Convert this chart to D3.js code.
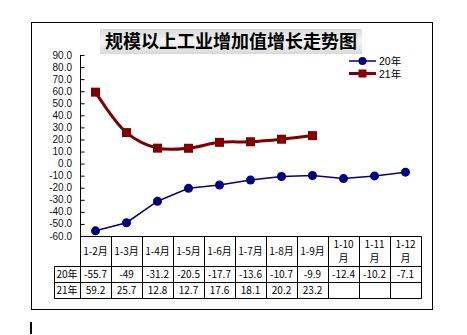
<!DOCTYPE html>
<html><head><meta charset="utf-8">
<script src="https://cdn.jsdelivr.net/npm/d3@7"></script>
<style>body{margin:0;background:#fff}svg{display:block}</style>
</head><body>
<script>
const title = "规模以上工业增加值增长走势图";
const categories = ["1-2月","1-3月","1-4月","1-5月","1-6月","1-7月","1-8月","1-9月","1-10月","1-11月","1-12月"];
const seriesNames = ["20年","21年"];
const values20 = [-55.7,-49,-31.2,-20.5,-17.7,-13.6,-10.7,-9.9,-12.4,-10.2,-7.1];
const values21 = [59.2,25.7,12.8,12.7,17.6,18.1,20.2,23.2];
const yTicks = [90,80,70,60,50,40,30,20,10,0,-10,-20,-30,-40,-50,-60];

const W=467,H=335;
const svg=d3.select("body").append("svg").attr("width",W).attr("height",H);
const font='"Noto Sans CJK SC", "DejaVu Sans", sans-serif';
const numFont='"Liberation Sans", "Noto Sans CJK SC", sans-serif';

// outer frame
svg.append("rect").attr("x",31.5).attr("y",22.5).attr("width",401).attr("height",287)
  .attr("fill","#fff").attr("stroke","#000");

// title
const grad=svg.append("defs").append("linearGradient").attr("id","tg").attr("x1",0).attr("y1",0).attr("x2",0).attr("y2",1);
grad.append("stop").attr("offset","0%").attr("stop-color","#d9d9d9");
grad.append("stop").attr("offset","50%").attr("stop-color","#f4f4f4");
grad.append("stop").attr("offset","100%").attr("stop-color","#d9d9d9");
svg.append("rect").attr("x",100).attr("y",29).attr("width",262).attr("height",25).attr("fill","url(#tg)");
svg.append("text").attr("x",231).attr("y",48).attr("text-anchor","middle")
  .attr("font-family",font).attr("font-size",18).attr("font-weight","bold").attr("fill","#000")
  .text(title);

// scales
const x=d3.scaleBand().domain(categories).range([80,421]);
const y=d3.scaleLinear().domain([-60,90]).range([236,55]);
const cx=c=>x(c)+x.bandwidth()/2;

// y axis
const fmt=v=>(v<0?"-":"")+Math.abs(v).toFixed(1);
const yAxis=d3.axisRight(y).tickValues(yTicks).tickFormat("").tickSize(4);
const ga=svg.append("g").attr("transform","translate(80,0)").call(yAxis);
ga.select(".domain").attr("d","M0.5,"+y(90)+"V"+y(-60)).attr("stroke","#000");
ga.selectAll(".tick line").attr("stroke","#000").attr("transform","translate(0.5,0)");
svg.append("g").selectAll("text").data(yTicks).join("text")
  .attr("x",72).attr("y",d=>y(d)+3.5).attr("text-anchor","end")
  .attr("font-family",numFont).attr("font-size",10).attr("fill","#111")
  .text(fmt);

// series 20
const pts20=values20.map((v,i)=>[cx(categories[i]),y(v)]);
svg.append("path").attr("d",d3.line()(pts20)).attr("fill","none").attr("stroke","#000080").attr("stroke-width",1.5);
svg.append("g").selectAll("circle").data(pts20).join("circle")
  .attr("cx",d=>d[0]).attr("cy",d=>d[1]).attr("r",4.5).attr("fill","#000080");

// series 21
const pts21=values21.map((v,i)=>[cx(categories[i]),y(v)]);
svg.append("path").attr("d",d3.line().curve(d3.curveCatmullRom.alpha(0.5))(pts21))
  .attr("fill","none").attr("stroke","#800000").attr("stroke-width",3);
svg.append("g").selectAll("rect").data(pts21).join("rect")
  .attr("x",d=>d[0]-4.5).attr("y",d=>d[1]-4.5).attr("width",9).attr("height",9).attr("fill","#800000");

// legend
const lg=svg.append("g");
lg.append("line").attr("x1",349).attr("x2",376).attr("y1",61).attr("y2",61).attr("stroke","#000080").attr("stroke-width",1.5);
lg.append("circle").attr("cx",362.5).attr("cy",61).attr("r",4).attr("fill","#000080");
lg.append("line").attr("x1",349).attr("x2",376).attr("y1",73.5).attr("y2",73.5).attr("stroke","#800000").attr("stroke-width",3);
lg.append("rect").attr("x",358.5).attr("y",69.5).attr("width",8).attr("height",8).attr("fill","#800000");
lg.selectAll("text").data(seriesNames).join("text")
  .attr("x",379).attr("y",(d,i)=>65+i*12.5).attr("font-family",numFont).attr("font-size",10.5).attr("fill","#000").text(d=>d);

// data table
const tb=svg.append("g").attr("font-family",font).attr("font-size",10).attr("fill","#000");
const L=54.5,R=421.5,T0=236.5,T1=266.5,T2=282.5,T3=298.5;
const ln=(x1,y1,x2,y2)=>tb.append("line").attr("x1",x1).attr("y1",y1).attr("x2",x2).attr("y2",y2).attr("stroke","#000");
ln(80,T0,R,T0); ln(L,T1,R,T1); ln(L,T2,R,T2); ln(L,T3,R,T3);
ln(L,T1,L,T3);
categories.forEach(c=>ln(Math.round(x(c))+0.5,T0,Math.round(x(c))+0.5,T3));
ln(R,T0,R,T3);
categories.forEach(c=>{
  const m=c.match(/^(1-\d+)(月)$/);
  if(c.length>4){
    tb.append("text").attr("x",cx(c)).attr("y",248).attr("text-anchor","middle").text(m[1]);
    tb.append("text").attr("x",cx(c)).attr("y",262).attr("text-anchor","middle").text(m[2]);
  } else {
    tb.append("text").attr("x",cx(c)).attr("y",255).attr("text-anchor","middle").text(c);
  }
});
tb.append("text").attr("x",67).attr("y",278).attr("text-anchor","middle").text(seriesNames[0]);
tb.append("text").attr("x",67).attr("y",294).attr("text-anchor","middle").text(seriesNames[1]);
values20.forEach((v,i)=>tb.append("text").attr("x",cx(categories[i])).attr("y",278).attr("text-anchor","middle").text(String(v)));
values21.forEach((v,i)=>tb.append("text").attr("x",cx(categories[i])).attr("y",294).attr("text-anchor","middle").text(String(v)));

// stray cursor mark below the frame
svg.append("rect").attr("x",30).attr("y",322).attr("width",2).attr("height",12).attr("fill","#000");
</script>
</body></html>
